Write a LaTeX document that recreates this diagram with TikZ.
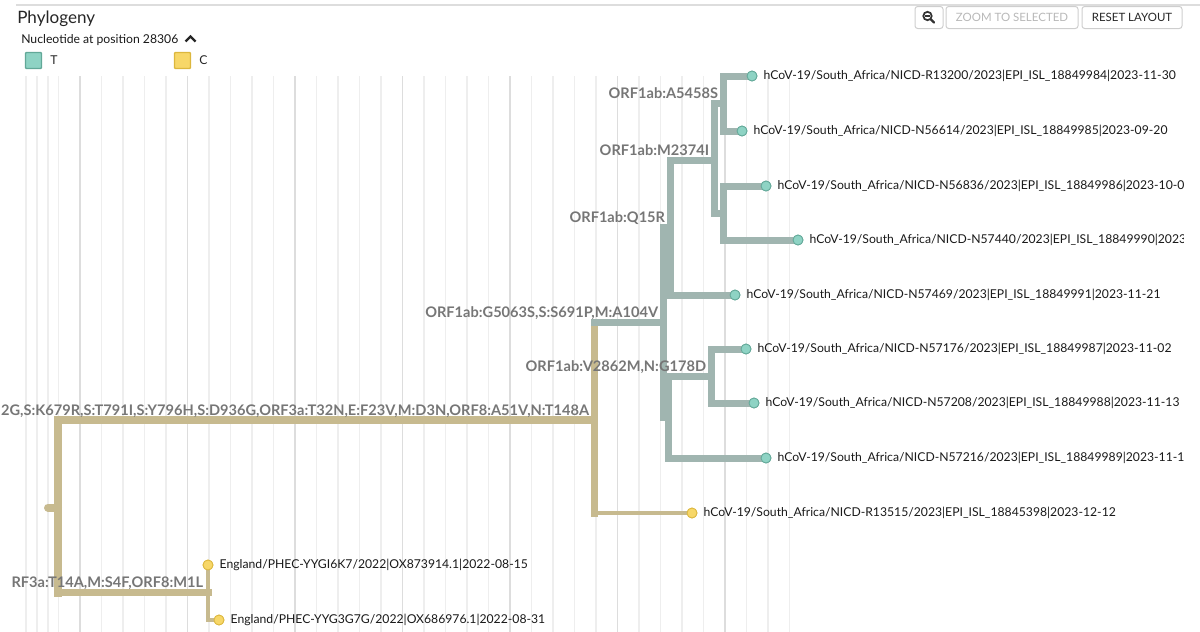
\documentclass[tikz,border=0pt]{standalone}
\usepackage{fontspec}
\setmainfont{Lato}
\usetikzlibrary{calc}

\definecolor{tanbr}{RGB}{199,186,143}
\definecolor{graybr}{RGB}{160,181,176}
\definecolor{tealfill}{RGB}{142,211,196}
\definecolor{tealline}{RGB}{98,168,152}
\definecolor{goldfill}{RGB}{247,215,104}
\definecolor{goldline}{RGB}{220,183,62}
\definecolor{mutgray}{RGB}{118,118,118}
\definecolor{gridminor}{RGB}{238,238,238}
\definecolor{gridmajor}{RGB}{221,221,221}
\definecolor{btnline}{RGB}{206,206,206}
\newcommand{\nicd}[3]{hCoV-19/South\_Africa/NICD-#1/2023|EPI\_ISL\_#2|#3}

\begin{document}
\begin{tikzpicture}[x=0.75pt, y=-0.75pt, font=\fontsize{9.15}{11}\selectfont,
  tanthick/.style={tanbr, line width=6pt, line cap=rect},
  tanmid/.style={tanbr, line width=5.25pt, line cap=rect},
  tanthin/.style={tanbr, line width=3.4pt, line cap=rect},
  graymid/.style={graybr, line width=5.25pt, line cap=rect},
  tipteal/.style={circle, draw=tealline, fill=tealfill, line width=0.6pt, minimum size=7.5pt, inner sep=0pt},
  tipgold/.style={circle, draw=goldline, fill=goldfill, line width=0.6pt, minimum size=7.5pt, inner sep=0pt},
  tiplab/.style={anchor=west, inner sep=0pt, xshift=4.5pt, text=black!90},
  mutlab/.style={anchor=base east, inner sep=0pt, xshift=-3.5pt, yshift=3.5pt, text=mutgray,
    font=\fontsize{10.95}{12}\selectfont\bfseries},
  legbox/.style={draw, line width=1.1pt, minimum size=12pt, inner sep=0pt, rounded corners=0.6pt},
  btn/.style={draw=btnline, line width=0.75pt, rounded corners=2pt, minimum height=16.5pt, inner sep=0pt,
    font=\fontsize{8.6}{10}\selectfont}]
\useasboundingbox (0,0) rectangle (1200,632);

% header
\draw[gridmajor, line width=1.5pt] (16,5) -- (1200,5);
\node[anchor=base west, inner sep=0pt, font=\fontsize{12.8}{15}\selectfont, text=black!85] (title) at (17,23) {Phylogeny};
\node[anchor=base west, inner sep=0pt, font=\fontsize{9.15}{11}\selectfont, text=black!90] (subtitle) at (21,43) {Nucleotide at position 28306};
\draw[line width=1.7pt, black!85] (185.5,41.5) -- (190.5,36.5) -- (195.5,41.5);
\node[legbox, draw=tealline, fill=tealfill] (legT) at (33.5,60.5) {};
\node[anchor=west, inner sep=0pt, text=black!85] (legTtxt) at (50,60) {T};
\node[legbox, draw=goldline, fill=goldfill] (legC) at (182.5,60.5) {};
\node[anchor=west, inner sep=0pt, text=black!85] (legCtxt) at (199,60) {C};

% buttons
\node[btn, minimum width=21pt] (zoomicon) at (929,17.5) {};
\draw[line width=1.3pt, black!80] (927.5,16) circle (4.2);
\draw[line width=1.8pt, black!80, line cap=round] (930.8,19.3) -- (934,22.5);
\draw[line width=1pt, black!80] (925,16) -- (930,16);
\node[btn, minimum width=99pt, text=black!28] (zoomsel) at (1012,17.5) {ZOOM TO SELECTED};
\node[btn, minimum width=75pt, text=black!85] (reset) at (1132,17.5) {RESET LAYOUT};

\begin{scope}
\clip (0,60) rectangle (1183,632);
% time grid
\foreach \gx in {26,37,48} \draw[gridminor, line width=0.8pt] (\gx,76) -- (\gx,632);
\foreach \k in {0,...,34} \draw[gridminor, line width=0.8pt] (58.5+21.5*\k,76) -- (58.5+21.5*\k,632);
\foreach \gx in {80,187.5,295,402.5,510,617.5,725} \draw[gridmajor, line width=1.1pt] (\gx,76) -- (\gx,632);

% internal nodes
\coordinate (rootstub) at (48,507.5);
\coordinate (root) at (58,507.5);
\coordinate (nA) at (594,420);
\coordinate (nE) at (208,592.5);
\coordinate (nG) at (663,322);
\coordinate (nQ) at (670,227.5);
\coordinate (nM) at (714,160);
\coordinate (nA5) at (723,103.5);
\coordinate (nB) at (723,213);
\coordinate (nV) at (668,417);
\coordinate (nV2) at (711,376);

% tips
\node[tipteal] (r13200) at (752,76) {};
\node[tipteal] (n56614) at (742,131) {};
\node[tipteal] (n56836) at (766,186) {};
\node[tipteal] (n57440) at (798,240) {};
\node[tipteal] (n57469) at (735,295) {};
\node[tipteal] (n57176) at (746,349) {};
\node[tipteal] (n57208) at (754,403) {};
\node[tipteal] (n57216) at (766,458) {};
\node[tipgold] (r13515) at (692,513) {};
\node[tipgold] (yygi6k7) at (208,565) {};
\node[tipgold] (yyg3g7g) at (219,620) {};

% branches
\draw[tanthick, line cap=round] (rootstub) -- (root);
\draw[tanthick] (root |- nA) -- (root |- nE);
\draw[tanthick] (root |- nA) -- (nA);
\draw[tanmid] (root |- nE) -- (nE);
\draw[tanthin] (nE |- yygi6k7) -- (nE |- yyg3g7g);
\draw[tanthin] (nE |- yyg3g7g) -- (yyg3g7g);
\draw[tanmid] (nA |- nG) -- (nA |- r13515);
\draw[tanthin] (nA |- r13515) -- (r13515);
\draw[graymid] (nA |- nG) -- (nG);
\draw[graymid] (nG |- nQ) -- (nG |- nV);
\draw[graymid] (nG |- nQ) -- (nQ);
\draw[graymid] (nG |- nV) -- (nV);
\draw[graymid] (nQ |- nM) -- (nQ |- n57469);
\draw[graymid] (nQ |- nM) -- (nM);
\draw[graymid] (nQ |- n57469) -- (n57469);
\draw[graymid] (nM |- nA5) -- (nM |- nB);
\draw[graymid] (nM |- nA5) -- (nA5);
\draw[graymid] (nM |- nB) -- (nB);
\draw[graymid] (nA5 |- r13200) -- (nA5 |- n56614);
\draw[graymid] (nA5 |- r13200) -- (r13200);
\draw[graymid] (nA5 |- n56614) -- (n56614);
\draw[graymid] (nB |- n56836) -- (nB |- n57440);
\draw[graymid] (nB |- n56836) -- (n56836);
\draw[graymid] (nB |- n57440) -- (n57440);
\draw[graymid] (nV |- nV2) -- (nV |- n57216);
\draw[graymid] (nV |- nV2) -- (nV2);
\draw[graymid] (nV |- n57216) -- (n57216);
\draw[graymid] (nV2 |- n57176) -- (nV2 |- n57208);
\draw[graymid] (nV2 |- n57176) -- (n57176);
\draw[graymid] (nV2 |- n57208) -- (n57208);

% redraw tips on top
\foreach \t in {r13200,n56614,n56836,n57440,n57469,n57176,n57208,n57216}
  \node[tipteal] at (\t) {};
\foreach \t in {r13515,yygi6k7,yyg3g7g}
  \node[tipgold] at (\t) {};

% mutation labels
\node[mutlab] (mutA) at (nA) {2G,S:K679R,S:T791I,S:Y796H,S:D936G,ORF3a:T32N,E:F23V,M:D3N,ORF8:A51V,N:T148A};
\node[mutlab] (mutE) at (nE) {RF3a:T14A,M:S4F,ORF8:M1L};
\node[mutlab] (mutG) at (nG) {ORF1ab:G5063S,S:S691P,M:A104V};
\node[mutlab] (mutQ) at (nQ) {ORF1ab:Q15R};
\node[mutlab] (mutM) at (nM) {ORF1ab:M2374I};
\node[mutlab] (mutA5) at (nA5) {ORF1ab:A5458S};
\node[mutlab] (mutV2) at (nV2) {ORF1ab:V2862M,N:G178D};

% tip labels
\node[tiplab] (r13200-l) at (r13200.east) {\nicd{R13200}{18849984}{2023-11-30}};
\node[tiplab] (n56614-l) at (n56614.east) {\nicd{N56614}{18849985}{2023-09-20}};
\node[tiplab] (n56836-l) at (n56836.east) {\nicd{N56836}{18849986}{2023-10-0}};
\node[tiplab] (n57440-l) at (n57440.east) {\nicd{N57440}{18849990}{2023}};
\node[tiplab] (n57469-l) at (n57469.east) {\nicd{N57469}{18849991}{2023-11-21}};
\node[tiplab] (n57176-l) at (n57176.east) {\nicd{N57176}{18849987}{2023-11-02}};
\node[tiplab] (n57208-l) at (n57208.east) {\nicd{N57208}{18849988}{2023-11-13}};
\node[tiplab] (n57216-l) at (n57216.east) {\nicd{N57216}{18849989}{2023-11-1}};
\node[tiplab] (r13515-l) at (r13515.east) {\nicd{R13515}{18845398}{2023-12-12}};
\node[tiplab] (yygi6k7-l) at (yygi6k7.east) {England/PHEC-YYGI6K7/2022|OX873914.1|2022-08-15};
\node[tiplab] (yyg3g7g-l) at (yyg3g7g.east) {England/PHEC-YYG3G7G/2022|OX686976.1|2022-08-31};
\end{scope}
\end{tikzpicture}
\end{document}
